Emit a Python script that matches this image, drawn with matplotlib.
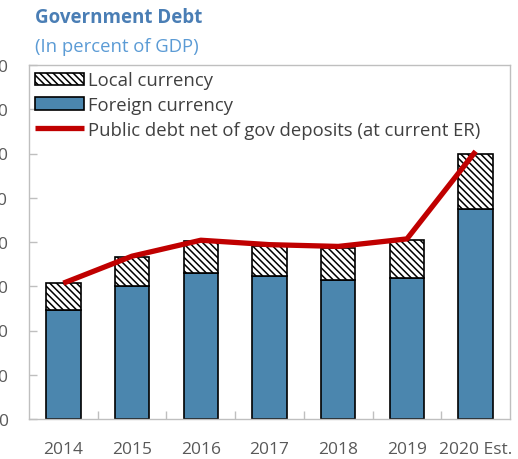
import matplotlib
matplotlib.use("Agg")
import matplotlib.pyplot as plt
import numpy as np

plt.rcParams['font.family'] = ['Open Sans', 'DejaVu Sans']
plt.rcParams['hatch.color'] = 'black'
plt.rcParams['hatch.linewidth'] = 1.1

years = ["2014", "2015", "2016", "2017", "2018", "2019", "2020 Est."]
foreign_currency = [24.7, 30.1, 33.1, 32.3, 31.5, 31.8, 47.5]
local_currency = [6.1, 6.5, 7.1, 6.9, 7.1, 8.7, 12.5]
net_debt = [30.7, 36.8, 40.4, 39.4, 39.0, 40.7, 60.5]
y_ticks = [0, 10, 20, 30, 40, 50, 60, 70, 80]

W, H = 518, 460
fig = plt.figure(figsize=(W / 100, H / 100), dpi=100)
ax = fig.add_axes([29 / W, (H - 420) / H, (510 - 29) / W, (420 - 66) / H])

x = np.arange(len(years))
blue = '#4B86AE'
grey = '#595959'
spine_col = '#BFBFBF'

bar_fc = ax.bar(x, foreign_currency, width=0.5, color=blue, edgecolor='black',
                linewidth=1.2, zorder=2)
bar_lc = ax.bar(x, local_currency, width=0.5, bottom=foreign_currency, color='white',
                edgecolor='black', linewidth=1.2, hatch='\\\\\\\\\\', zorder=2)
line_net, = ax.plot(x, net_debt, color='#C00000', linewidth=3.8,
                    solid_capstyle='butt', zorder=3)

ax.set_xlim(-0.5, len(years) - 0.5)
ax.set_ylim(0, 80)
ax.set_yticks(y_ticks)
ax.set_yticklabels([str(v) for v in y_ticks])
ax.set_xticks(x)
ax.set_xticklabels(years)
ax.set_xticks(np.arange(len(years) - 1) + 0.5, minor=True)

for s in ax.spines.values():
    s.set_color(spine_col)
    s.set_linewidth(1.0)

ax.tick_params(axis='y', direction='in', length=6, width=1, color=spine_col,
               labelcolor=grey, labelsize=12.5, pad=15)
ax.tick_params(axis='x', which='major', length=0, labelcolor=grey,
               labelsize=12.5, pad=16)
ax.tick_params(axis='x', which='minor', direction='in', length=6, width=1,
               color=spine_col)

leg = ax.legend([bar_lc, bar_fc, line_net],
                ['Local currency', 'Foreign currency',
                 'Public debt net of gov deposits (at current ER)'],
                loc='upper left', bbox_to_anchor=(0.0, 1.0), frameon=False,
                fontsize=13.3, labelcolor='#404040', handlelength=2.65,
                handletextpad=0.22, labelspacing=0.36, borderaxespad=0.3,
                borderpad=0.05)

fig.text(35 / W, 1 - 18 / H, 'Government Debt', color='#4A7EB5',
         fontsize=13.5, fontweight='bold', va='center', ha='left')
fig.text(35 / W, 1 - 47 / H, '(In percent of GDP)', color='#5B9BD5',
         fontsize=13.3, va='center', ha='left')

fig.savefig('out.png', dpi=100)
